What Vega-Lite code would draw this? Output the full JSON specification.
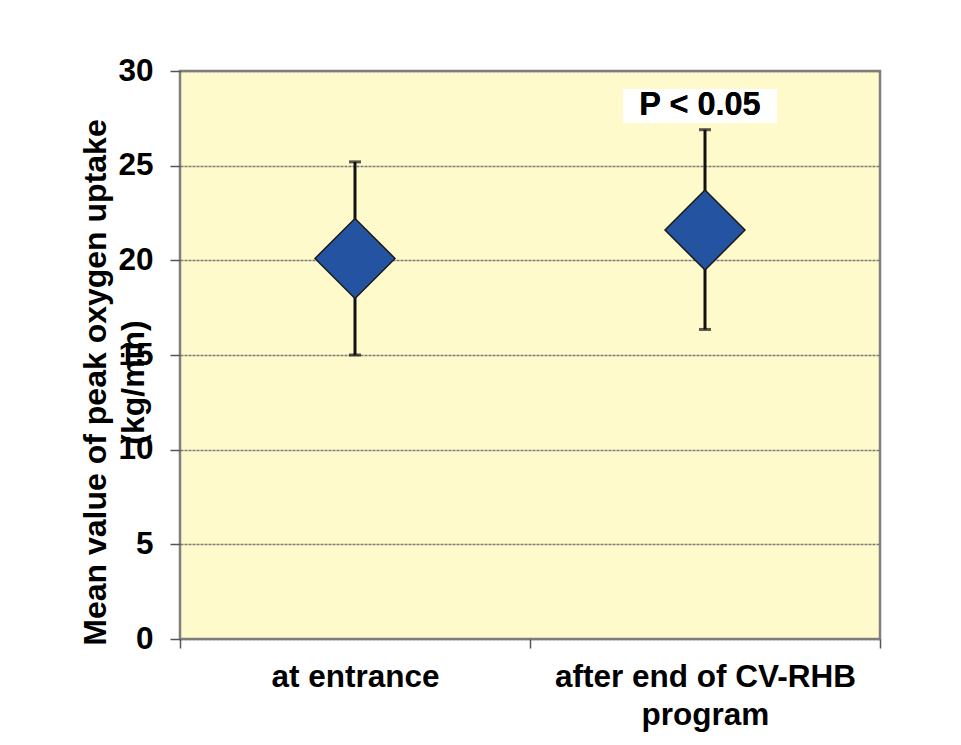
{
  "$schema": "https://vega.github.io/schema/vega-lite/v6.json",
  "autosize": {"type": "none"},
  "width": 700,
  "height": 568,
  "padding": {"left": 180, "top": 71, "right": 81, "bottom": 106},
  "background": "white",
  "config": {
    "font": "Liberation Sans",
    "view": {"fill": "#FFFACB", "stroke": "#808080", "strokeWidth": 2.5}
  },
  "data": {
    "values": [
      {"group": "at entrance", "mean": 20.1, "low": 15.0, "high": 25.2},
      {"group": "after end of CV-RHB program", "mean": 21.6, "low": 16.35, "high": 26.9}
    ]
  },
  "encoding": {
    "x": {
      "field": "group",
      "type": "nominal",
      "sort": null,
      "scale": {"paddingInner": 0, "paddingOuter": 0},
      "axis": {
        "title": null,
        "labelAngle": 0,
        "labelFont": "Liberation Sans",
        "labelFontWeight": "bold",
        "labelFontSize": 31.5,
        "labelColor": "black",
        "labelLimit": 0,
        "labelExpr": "datum.value == 'after end of CV-RHB program' ? ['after end of CV-RHB', 'program'] : datum.value",
        "labelLineHeight": 38,
        "labelPadding": 13,
        "tickBand": "extent",
        "tickSize": 9,
        "tickColor": "#555555",
        "tickWidth": 1.5,
        "domain": false,
        "grid": false
      }
    }
  },
  "layer": [
    {
      "mark": {"type": "rule", "color": "#111111", "strokeWidth": 3},
      "encoding": {
        "y": {
          "field": "low",
          "type": "quantitative",
          "scale": {"domain": [0, 30], "nice": false},
          "axis": {
            "values": [0, 5, 10, 15, 20, 25, 30],
            "title": ["Mean value of peak oxygen uptake", "(kg/min)"],
            "titleFont": "Liberation Sans",
            "titleFontWeight": "bold",
            "titleFontSize": 32,
            "titleColor": "black",
            "titleAngle": -90,
            "titleLineHeight": 38,
            "titleBaseline": "middle",
            "titleAlign": "center",
            "titleX": -85,
            "titleY": 311,
            "labelFont": "Liberation Sans",
            "labelFontWeight": "bold",
            "labelFontSize": 31.5,
            "labelColor": "black",
            "labelPadding": 17,
            "tickSize": 10,
            "tickColor": "#555555",
            "tickWidth": 1.5,
            "domain": false,
            "grid": true,
            "gridColor": "#7a7a7a",
            "gridWidth": 1.5,
            "gridDash": [3, 1]
          }
        },
        "y2": {"field": "high"}
      }
    },
    {
      "mark": {"type": "tick", "color": "#111111", "thickness": 3, "size": 12, "orient": "horizontal"},
      "encoding": {"y": {"field": "low", "type": "quantitative"}}
    },
    {
      "mark": {"type": "tick", "color": "#111111", "thickness": 3, "size": 12, "orient": "horizontal"},
      "encoding": {"y": {"field": "high", "type": "quantitative"}}
    },
    {
      "mark": {"type": "point", "shape": "diamond", "size": 6400, "filled": true, "fill": "#2453A2", "stroke": "#1a1a1a", "strokeWidth": 1.5, "opacity": 1},
      "encoding": {"y": {"field": "mean", "type": "quantitative"}}
    },
    {
      "mark": {"type": "bar", "color": "white", "width": 154, "xOffset": -5},
      "encoding": {
        "x": {"datum": "after end of CV-RHB program", "type": "nominal"},
        "y": {"datum": 29.05, "type": "quantitative"},
        "y2": {"datum": 27.25}
      }
    },
    {
      "mark": {"type": "text", "text": "P < 0.05", "font": "Liberation Sans", "fontWeight": "bold", "fontSize": 32.5, "color": "black", "baseline": "middle", "align": "center", "xOffset": -5},
      "encoding": {
        "x": {"datum": "after end of CV-RHB program", "type": "nominal"},
        "y": {"datum": 28.2, "type": "quantitative"}
      }
    }
  ]
}
